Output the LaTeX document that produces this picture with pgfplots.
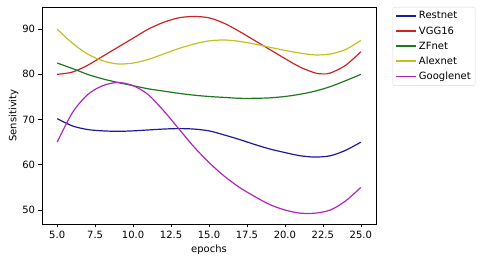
\documentclass[border=0pt]{standalone}
\usepackage{fontspec}
\setmainfont{DejaVu Sans}
\usepackage{pgfplots}
\pgfplotsset{compat=1.18}
\definecolor{cB}{HTML}{1C1C96}
\definecolor{cR}{HTML}{CC2424}
\definecolor{cG}{HTML}{1E781E}
\definecolor{cY}{HTML}{C4C022}
\definecolor{cM}{HTML}{B026BC}
\begin{document}
\begin{tikzpicture}
\begin{axis}[
  name=ax,
  scale only axis,
  width=334bp, height=217bp,
  xmin=4, xmax=26, ymin=46.9, ymax=94.9,
  xtick={5,7.5,10,12.5,15,17.5,20,22.5,25},
  xticklabels={5.0,7.5,10.0,12.5,15.0,17.5,20.0,22.5,25.0},
  ytick={50,60,70,80,90},
  xtick pos=bottom, ytick pos=left,
  tick align=outside, major tick length=3.5bp,
  tick style={black, line width=0.6bp},
  axis line style={black, line width=0.8bp},
  /pgf/number format/assume math mode=true,
  tick label style={font=\fontsize{10bp}{12bp}\selectfont},
  label style={font=\fontsize{10bp}{12bp}\selectfont},
  xlabel={epochs}, ylabel={Sensitivity},
  xlabel style={yshift=1bp},
  ylabel style={yshift=-3bp},
  legend style={at={(1.05,1)}, anchor=north west, draw=gray!30, rounded corners=2bp,
    font=\fontsize{10bp}{12bp}\selectfont, row sep=2.2bp, inner sep=2.5bp},
  legend cell align=left,
  legend image code/.code={\draw[#1, line width=1.6bp] (0bp,0bp) -- (20bp,0bp);},
  every axis plot/.append style={line width=1.2bp, smooth, tension=0.5},
]
\addplot[cB] coordinates {(5,70.2)(6,68.6)(7,67.8)(8,67.5)(9,67.4)(10,67.5)(11,67.7)(12,67.9)(13,68.0)(14,67.9)(15,67.5)(16,66.6)(17,65.6)(18,64.5)(19,63.5)(20,62.7)(21,62.0)(22,61.7)(23,62.0)(24,63.2)(25,65.0)};
\addlegendentry{Restnet}
\addplot[cR] coordinates {(5,80.0)(6,80.5)(7,82.0)(8,84.0)(9,86.0)(10,88.0)(11,90.0)(12,91.5)(13,92.5)(14,92.8)(15,92.5)(16,91.3)(17,89.5)(18,87.5)(19,85.5)(20,83.5)(21,81.6)(22,80.3)(22.5,80.1)(23,80.3)(24,82.0)(25,85.0)};
\addlegendentry{VGG16}
\addplot[cG] coordinates {(5,82.5)(6,81.3)(7,80.0)(8,79.0)(9,78.2)(10,77.5)(11,76.8)(12,76.3)(13,75.8)(14,75.4)(15,75.1)(16,74.9)(17,74.7)(18,74.7)(19,74.8)(20,75.1)(21,75.6)(22,76.3)(23,77.3)(24,78.6)(25,80.0)};
\addlegendentry{ZFnet}
\addplot[cY] coordinates {(5,90.0)(6,86.9)(7,84.5)(8,83.0)(9,82.3)(10,82.5)(11,83.3)(12,84.5)(13,85.7)(14,86.7)(15,87.4)(16,87.6)(17,87.3)(18,86.7)(19,86.0)(20,85.3)(21,84.7)(22,84.3)(23,84.5)(24,85.5)(25,87.5)};
\addlegendentry{Alexnet}
\addplot[cM] coordinates {(5,65.0)(6,71.5)(7,75.5)(8,77.5)(9,78.2)(10,77.5)(11,75.5)(12,72.0)(13,68.0)(14,64.0)(15,60.5)(16,57.5)(17,55.0)(18,53.0)(19,51.2)(20,50.0)(21,49.3)(22,49.3)(23,50.0)(24,52.0)(25,55.0)};
\addlegendentry{Googlenet}
\end{axis}
\path[use as bounding box] ([xshift=-42bp,yshift=-34bp]ax.south west) rectangle ([xshift=107bp,yshift=7bp]ax.north east);
\end{tikzpicture}
\end{document}
